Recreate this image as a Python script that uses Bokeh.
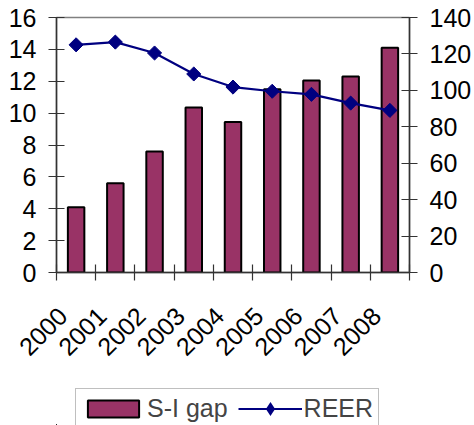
import math
from bokeh.plotting import figure
from bokeh.layouts import column
from bokeh.models import (Range1d, LinearAxis, FixedTicker, Legend, LegendItem, ColumnDataSource)
from bokeh.embed import file_html
from bokeh.resources import INLINE

years = ["2000", "2001", "2002", "2003", "2004", "2005", "2006", "2007", "2008"]
si_gap = [4.1, 5.6, 7.6, 10.35, 9.45, 11.5, 12.05, 12.3, 14.1]
reer = [125, 126.5, 120.5, 109, 101.8, 99.5, 97.8, 93, 89]
left_ticks = [0, 2, 4, 6, 8, 10, 12, 14, 16]
right_ticks = [0, 20, 40, 60, 80, 100, 120, 140]

n = len(years)
xc = [i + 0.5 for i in range(n)]
src = ColumnDataSource(dict(x=xc, si=si_gap, reer=reer))

FONT = "Liberation Sans"
FS = "25px"
AX = "#333333"
BAR = "#993366"
LINE = "#000080"

W = 474
H1 = 369
H2 = 425 - H1

p = figure(width=W, height=H1, output_backend="svg", toolbar_location=None,
           x_range=Range1d(0, n), y_range=Range1d(0, 16),
           min_border_left=56, min_border_right=65, min_border_top=17, min_border_bottom=H1 - 17 - 255,
           x_axis_location=None, y_axis_location=None)
p.xgrid.visible = False
p.ygrid.visible = False
p.outline_line_color = "#808080"
p.outline_line_width = 1.5

p.extra_y_ranges = {"reer": Range1d(0, 140)}

def style_y(ax, ticks):
    ax.ticker = FixedTicker(ticks=ticks)
    ax.axis_line_color = AX
    ax.axis_line_width = 1.5
    ax.major_tick_line_color = AX
    ax.major_tick_line_width = 1.2
    ax.major_tick_in = 8
    ax.major_tick_out = 8
    ax.minor_tick_line_color = None
    ax.major_label_text_font = FONT
    ax.major_label_text_font_size = FS
    ax.major_label_text_color = "black"
    ax.major_label_standoff = 12

yl = LinearAxis()
style_y(yl, left_ticks)
p.add_layout(yl, "left")

yr = LinearAxis(y_range_name="reer")
style_y(yr, right_ticks)
p.add_layout(yr, "right")

# x axis: tick marks (minor) at category boundaries, rotated year labels (major) near each category
edges = list(range(n + 1))
lab_pos = [i + 0.15625 for i in range(n)]
xa = LinearAxis(ticker=FixedTicker(ticks=lab_pos, minor_ticks=edges))
xa.major_label_overrides = {c: y for c, y in zip(lab_pos, years)}
xa.axis_line_color = AX
xa.axis_line_width = 1.5
xa.major_tick_line_color = None
xa.major_tick_in = 0
xa.major_tick_out = 0
xa.minor_tick_line_color = AX
xa.minor_tick_line_width = 1.2
xa.minor_tick_in = 8
xa.minor_tick_out = 8
xa.major_label_text_font = FONT
xa.major_label_text_font_size = FS
xa.major_label_text_color = "black"
xa.major_label_orientation = math.pi / 4
xa.major_label_standoff = 31
p.add_layout(xa, "below")

p.vbar(x="x", top="si", width=0.42, source=src, fill_color=BAR,
       line_color="black", line_width=2)
p.line(x="x", y="reer", source=src, y_range_name="reer", line_color=LINE, line_width=2.2)
p.scatter(x="x", y="reer", source=src, y_range_name="reer", marker="square", angle=math.pi / 4,
          size=10, fill_color=LINE, line_color=LINE)

# legend strip: its renderers share the data, which lies outside this strip's view
p2 = figure(width=W, height=H2, output_backend="svg", toolbar_location=None,
            x_range=Range1d(20, 40), y_range=Range1d(200, 400),
            min_border=0, x_axis_location=None, y_axis_location=None)
p2.xgrid.visible = False
p2.ygrid.visible = False
p2.outline_line_color = None
lb = p2.vbar(x="x", top="si", width=0.42, source=src, fill_color=BAR, line_color="black", line_width=2)
ll = p2.line(x="x", y="reer", source=src, line_color=LINE, line_width=2.2)
lm = p2.scatter(x="x", y="reer", source=src, marker="diamond",
                size=10, fill_color=LINE, line_color=LINE, line_width=3, line_join="miter")

legend = Legend(items=[LegendItem(label="S-I gap", renderers=[lb]),
                       LegendItem(label="REER", renderers=[ll, lm])],
                orientation="horizontal", location="top_left")
legend.label_text_font = FONT
legend.label_text_font_size = FS
legend.glyph_width = 64
legend.glyph_height = 21
legend.label_standoff = 2
legend.spacing = 10
legend.padding = 5
legend.margin = 19
legend.border_line_color = "#808080"
legend.border_line_width = 1.5
p2.add_layout(legend, "center")

layout = column(p, p2, spacing=0)
open("out.html", "w").write(file_html(layout, INLINE))
